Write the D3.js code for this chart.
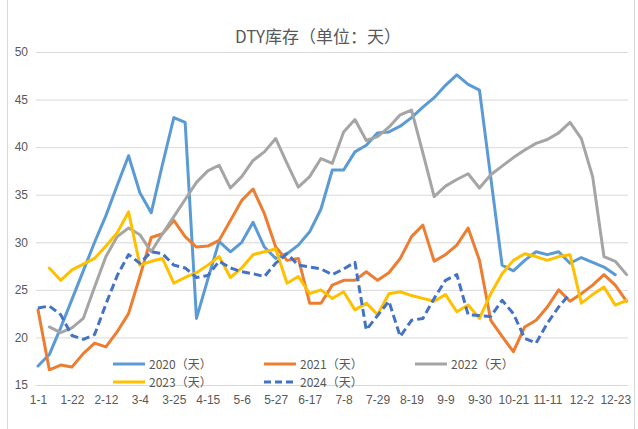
<!DOCTYPE html>
<html><head><meta charset="utf-8">
<script src="https://cdn.jsdelivr.net/npm/d3@7/dist/d3.min.js"></script>
<style>
html,body{margin:0;padding:0;background:#fff;}
svg{display:block;font-family:"Noto Sans CJK SC","Noto Sans",sans-serif;}
</style></head>
<body><svg id="c" width="638" height="429"></svg>
<script>
const categories = ["1-1","1-8","1-15","1-22","1-29","2-5","2-12","2-19","2-26","3-4","3-11","3-18","3-25","4-1","4-8","4-15","4-22","4-29","5-6","5-13","5-20","5-27","6-3","6-10","6-17","6-24","7-1","7-8","7-15","7-22","7-29","8-5","8-12","8-19","8-26","9-2","9-9","9-16","9-23","9-30","10-7","10-14","10-21","10-28","11-4","11-11","11-18","11-25","12-2","12-9","12-16","12-23","12-30"];
const tickLabels = ["1-1","1-22","2-12","3-4","3-25","4-15","5-6","5-27","6-17","7-8","7-29","8-19","9-9","9-30","10-21","11-11","12-2","12-23"];
const yTicks = [15,20,25,30,35,40,45,50];

const s2020 = [17.0,18.2,21.0,24.0,27.0,30.0,32.8,36.0,39.1,35.2,33.1,38.2,43.1,42.6,22.0,26.1,30.1,29.0,30.0,32.1,29.5,28.3,28.8,29.7,31.1,33.5,37.6,37.6,39.5,40.2,41.5,41.6,42.2,43.1,44.2,45.2,46.5,47.6,46.6,46.0,36.8,27.6,27.0,28.1,29.0,28.7,29.0,27.8,28.4,27.9,27.4,26.6];
const s2021 = [22.9,16.6,17.1,16.9,18.3,19.4,19.0,20.6,22.5,26.4,30.5,30.9,32.3,30.6,29.5,29.6,30.2,32.3,34.4,35.6,33.0,29.5,28.1,28.3,23.6,23.6,25.5,26.0,26.0,26.9,26.0,26.8,28.3,30.6,31.8,28.0,28.7,29.7,31.5,28.1,21.8,20.1,18.5,21.1,21.8,23.2,25.0,23.8,24.6,25.5,26.6,25.5,23.8];
const s2022 = [null,21.1,20.5,21.0,22.0,25.3,28.5,30.6,31.5,30.8,29.0,30.9,32.7,34.5,36.3,37.5,38.1,35.7,36.9,38.6,39.5,40.9,38.3,35.8,36.9,38.8,38.3,41.6,42.9,40.7,41.1,42.1,43.4,43.9,39.4,34.8,35.9,36.6,37.2,35.7,37.1,38.0,38.9,39.7,40.4,40.8,41.5,42.6,40.9,36.9,28.5,28.0,26.6];
const s2023 = [null,27.3,26.0,27.1,27.7,28.3,29.6,31.0,33.2,27.6,28.0,28.3,25.7,26.3,26.8,27.6,28.5,26.3,27.3,28.7,29.0,29.3,25.7,26.4,24.6,25.0,24.1,24.8,22.9,23.6,22.4,24.6,24.8,24.4,24.1,23.8,24.5,22.7,23.4,22.0,24.6,26.7,28.1,28.8,28.5,28.1,28.5,28.7,23.6,24.5,25.3,23.4,23.9];
const s2024 = [23.1,23.3,22.4,20.2,19.8,20.3,23.5,26.5,28.7,27.8,29.0,28.8,27.6,27.3,26.3,26.5,28.0,27.3,26.9,26.7,26.4,27.8,28.8,27.6,27.4,27.2,26.6,27.2,27.9,20.8,22.3,23.8,20.1,21.8,22.0,24.1,26.0,26.6,22.4,22.3,22.2,23.9,22.5,19.9,19.4,21.5,23.2,24.6];

const seriesNames = ["2020（天）","2021（天）","2022（天）","2023（天）","2024（天）"];
const seriesData = [s2020,s2021,s2022,s2023,s2024];
const colors = ["#5B9BD5","#ED7D31","#A5A5A5","#FFC000","#4472C4"];
const dashes = [null,null,null,null,"8,4"];

const svg = d3.select("#c");
const textColor = "#595959";

// chart border
svg.append("rect").attr("x",7.5).attr("y",-5).attr("width",627).attr("height",445)
  .attr("fill","none").attr("stroke","#D9D9D9").attr("stroke-width",1);

const x = d3.scalePoint().domain(categories).range([38, 626.6]);
const y = d3.scaleLinear().domain([15,50]).range([385,52]);

// y axis with gridlines
const gy = svg.append("g").attr("transform","translate(36,0)")
  .call(d3.axisLeft(y).tickValues(yTicks).tickSize(-592).tickPadding(8).tickFormat(d3.format("d")));
gy.select(".domain").remove();
gy.selectAll(".tick line").attr("stroke","#D9D9D9").attr("stroke-width",1);
gy.selectAll(".tick text").attr("fill",textColor).style("font-size","12px");

// x axis
const gx = svg.append("g").attr("transform","translate(0,385)")
  .call(d3.axisBottom(x).tickValues(tickLabels).tickSize(0).tickPadding(10));
gx.select(".domain").remove();
gx.selectAll(".tick text").attr("fill",textColor).style("font-size","12px");

// lines
const line = d3.line().defined(d => d.v != null).x(d => x(d.c)).y(d => y(d.v));
seriesData.forEach((arr,k) => {
  const pts = arr.map((v,i) => ({c: categories[i], v: v}));
  const p = svg.append("path").datum(pts).attr("d", line)
    .attr("fill","none").attr("stroke",colors[k]).attr("stroke-width",3)
    .attr("stroke-linejoin","round").attr("stroke-linecap","round");
  if (dashes[k]) p.attr("stroke-dasharray",dashes[k]).attr("stroke-linecap","butt");
});

// title
svg.append("text").attr("x",318).attr("y",43).attr("text-anchor","middle")
  .attr("fill",textColor).style("font-size","17px").text("DTY库存（单位：天）");

// legend
const legendPos = [[113,364],[264,364],[415,364],[113,382],[264,382]];
seriesNames.forEach((n,k) => {
  const [lx,ly] = legendPos[k];
  const l = svg.append("line").attr("x1",lx).attr("x2",lx+32).attr("y1",ly).attr("y2",ly)
    .attr("stroke",colors[k]).attr("stroke-width",3);
  if (dashes[k]) l.attr("stroke-dasharray","7,4");
  svg.append("text").attr("x",lx+36).attr("y",ly+4.5).attr("fill",textColor)
    .style("font-size","12px").text(n);
});
</script></body></html>
